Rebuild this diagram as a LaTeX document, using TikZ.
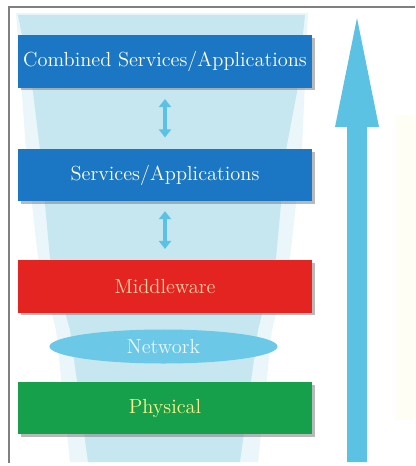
\documentclass[tikz,border=0pt]{standalone}
\usepackage{tikz}
\usetikzlibrary{arrows.meta,shadows,shapes.geometric}
\definecolor{layerblue}{HTML}{1B76C4}
\definecolor{layerred}{HTML}{E42421}
\definecolor{layergreen}{HTML}{17A04B}
\definecolor{riseblue}{HTML}{5BC2E4}
\definecolor{funnel}{HTML}{C6E7F0}
\definecolor{funnelhalo}{HTML}{EAF6F9}

\begin{document}
\begin{tikzpicture}[x=0.025cm, y=-0.025cm,
  layer/.style = {minimum width=7.35cm, minimum height=1.3cm, inner sep=0pt,
    font=\fontsize{14.5}{17}\selectfont,
    drop shadow={shadow xshift=2pt, shadow yshift=-2pt, opacity=0.55}},
  link/.style = {line width=0.12cm, draw=riseblue,
    {Triangle[width=0.3cm,length=0.2cm]}-{Triangle[width=0.3cm,length=0.2cm]}}]
  \useasboundingbox (0,0) rectangle (415,466);
  \fill[funnelhalo] (16,13) -- (308,13) -- (302,150) -- (290,258) -- (272,330) -- (258,462) -- (70,462) -- (56,330) -- (38,258) -- (26,150) -- cycle;
  \fill[funnel] (18,15) -- (305,15) -- (297,92) -- (286,150) -- (276,258) -- (258,330) -- (240,462) -- (88,462) -- (70,330) -- (50,258) -- (40,150) -- (33,92) -- cycle;
  \fill[yellow!4] (395,115) rectangle (415,420);
  \draw[gray, line width=1.2pt] (415,7) -- (9,7) -- (9,463);

  \node[layer, fill=layerblue, text=white!92!yellow] (comb) at (165,61.5) {Combined Services/Applications};
  \node[layer, fill=layerblue, text=yellow!12] (serv) at (165,175) {Services/Applications};
  \node[layer, fill=layerred, text=orange!35] (midd) at (165,286.5) {Middleware};
  \node[ellipse, fill=riseblue!90, minimum width=5.7cm, minimum height=0.85cm, inner sep=0pt,
    text=white!92!cyan, font=\fontsize{14.5}{17}\selectfont] (net) at (163.5,346.5) {Network};
  \node[layer, fill=layergreen, text=yellow!45] (phys) at (165,408) {Physical};

  \draw[link, shorten <=8pt, shorten >=8pt] (comb) -- (serv);
  \draw[link, shorten <=7pt, shorten >=8pt] (serv) -- (midd);

  \coordinate (rise top) at (357,18);
  \fill[riseblue] (347,462) -- (347,127) -- (335,127) -- (rise top) -- (379,127) -- (367,127) -- (367,462) -- cycle;
\end{tikzpicture}
\end{document}
